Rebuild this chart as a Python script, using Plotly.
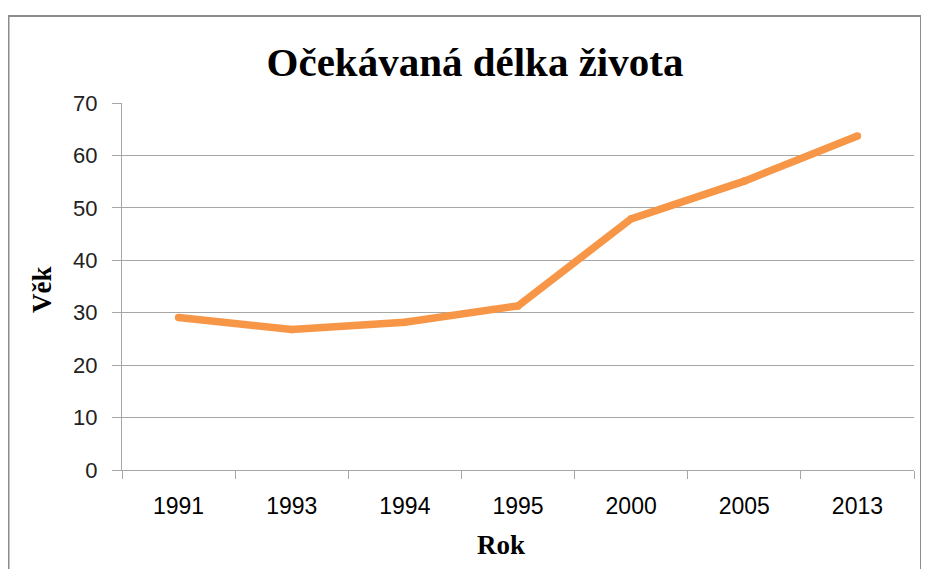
import plotly.graph_objects as go

years = ["1991", "1993", "1994", "1995", "2000", "2005", "2013"]
life_expectancy = [29.1, 26.8, 28.2, 31.3, 47.9, 55.1, 63.7]
y_ticks = [0, 10, 20, 30, 40, 50, 60, 70]

title_text = "Očekávaná délka života"
x_title = "Rok"
y_title = "Věk"

OFF = 8  # browser body margin
W, H = 929 - OFF, 569 - OFF
L, R, T, B = 122 - OFF, 15, 103 - OFF, 99
pw, ph = W - L - R, H - T - B

def px_x(x_ref):
    return (x_ref - OFF - L) / pw

def px_y(y_ref):
    return (H - B - (y_ref - OFF)) / ph

grid = "#A6A6A6"
orange = "#F79646"
serif = "Liberation Serif, Times New Roman, serif"

fig = go.Figure()
fig.add_trace(go.Scatter(
    x=years, y=life_expectancy, mode="lines+markers",
    line=dict(color=orange, width=7.5),
    marker=dict(color=orange, size=7.5),
    hoverinfo="x+y", showlegend=False,
))

fig.update_layout(
    width=W, height=H,
    margin=dict(l=L, r=R, t=T, b=B, pad=0),
    paper_bgcolor="white", plot_bgcolor="white",
    title=dict(text=title_text, x=(475 - OFF) / W, xanchor="center", xref="container",
               y=1 - (62 - OFF) / H, yanchor="middle", yref="container",
               font=dict(family=serif, size=41, color="black", weight="bold")),
    xaxis=dict(
        type="category", range=[-0.5, len(years) - 0.5],
        tickson="boundaries", ticks="outside", ticklen=8, tickcolor=grid,
        tickwidth=1.3,
        showline=True, linecolor=grid, linewidth=1.3, showgrid=False,
        tickfont=dict(family="Liberation Sans Narrow, Arial Narrow, Liberation Sans, sans-serif",
                      size=23, color="black"),
        ticklabelstandoff=15,
        fixedrange=True,
    ),
    yaxis=dict(
        range=[0, 70], tickvals=y_ticks, ticks="outside", ticklen=9, tickcolor=grid,
        tickwidth=1.3,
        showline=True, linecolor=grid, linewidth=1.3,
        showgrid=True, gridcolor=grid, gridwidth=1.3, zeroline=False,
        tickfont=dict(family="Liberation Sans, Arial, sans-serif", size=22, color="#222222"),
        ticklabelstandoff=10,
        fixedrange=True,
    ),
    annotations=[
        dict(text=x_title, xref="paper", yref="paper", x=px_x(501), y=px_y(545),
             xanchor="center", yanchor="middle", showarrow=False,
             font=dict(family=serif, size=27, color="black", weight="bold")),
        dict(text=y_title, xref="paper", yref="paper", x=px_x(42), y=px_y(290),
             xanchor="center", yanchor="middle", showarrow=False, textangle=-90,
             font=dict(family=serif, size=27, color="black", weight="bold")),
    ],
    shapes=[dict(
        type="rect", xref="paper", yref="paper",
        x0=px_x(8.5), x1=px_x(921), y0=px_y(600), y1=px_y(16),
        line=dict(color="#8C8C8C", width=2), fillcolor="rgba(0,0,0,0)", layer="below",
    )],
)

fig.write_html("out.html")
